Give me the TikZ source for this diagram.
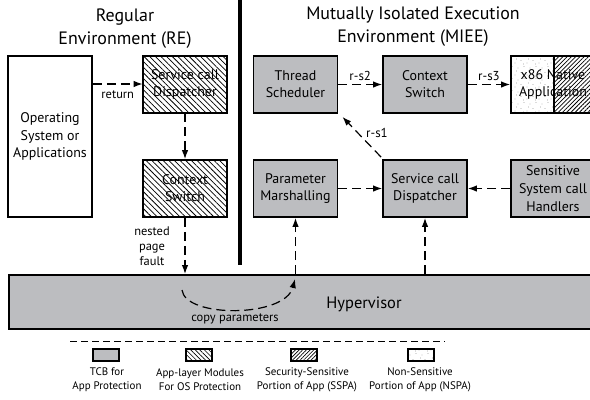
\documentclass[tikz,border=0pt]{standalone}
\usepackage{fontspec}
\setmainfont{PT Sans}
\usetikzlibrary{patterns,patterns.meta,arrows.meta}
\definecolor{tcb}{RGB}{188,189,192}
\pgfdeclarepattern{
  name=sparsedots, type=uncolored,
  bottom left={\pgfpoint{0pt}{0pt}}, top right={\pgfpoint{12pt}{12pt}},
  tile size={\pgfpoint{12pt}{12pt}},
  code={
    \pgfpathcircle{\pgfpoint{1pt}{2pt}}{0.4pt}
    \pgfpathcircle{\pgfpoint{7pt}{4.5pt}}{0.4pt}
    \pgfpathcircle{\pgfpoint{4pt}{9pt}}{0.4pt}
    \pgfpathcircle{\pgfpoint{10pt}{10.5pt}}{0.4pt}
    \pgfpathcircle{\pgfpoint{9.5pt}{1pt}}{0.4pt}
    \pgfpathcircle{\pgfpoint{2.5pt}{6pt}}{0.4pt}
    \pgfusepath{fill}
  }
}
\begin{document}
\begin{tikzpicture}[x=1bp,y=-1bp,
  box/.style={draw, line width=1.8bp, minimum width=84bp, minimum height=57bp,
    inner sep=1bp, align=center, font=\fontsize{14}{17}\selectfont},
  tcbbox/.style={box, fill=tcb},
  appbox/.style={box, pattern={Lines[angle=-45,distance=4bp,line width=0.75bp]}},
  dflow/.style={line width=1.2bp, dash pattern=on 9bp off 5bp,
    -{Latex[length=9bp,width=6.5bp]}},
  lbl/.style={font=\fontsize{12.5}{15}\selectfont, align=center, inner sep=0pt},
  rs/.style={lbl, font=\fontsize{13}{15}\selectfont},
  title/.style={font=\fontsize{18}{23}\selectfont, align=center, inner sep=0pt},
  legbox/.style={draw, line width=1.4bp, minimum width=26bp, minimum height=12bp, inner sep=0pt},
  legtext/.style={font=\fontsize{11}{14}\selectfont, align=center, inner sep=0pt},
]
\useasboundingbox (0,0) rectangle (590,399);
\clip (0,0) rectangle (590,399);

% titles
\node[title] (tre) at (125,29) {Regular\\Environment (RE)};
\node[title] (tmiee) at (413,27) {Mutually Isolated Execution\\Environment (MIEE)};

% divider
\draw[line width=4bp] (240,0) -- (240,265);

% hypervisor
\node[draw, fill=tcb, line width=1.8bp, minimum width=600bp, minimum height=54bp,
  anchor=north west, inner sep=0pt] (hyp) at (8,274) {};
\node[font=\fontsize{16.5}{20}\selectfont, inner sep=0pt] (hyptext) at (364,304) {Hypervisor};

% RE
\node[box, minimum height=161bp, font=\fontsize{14}{17.5}\selectfont] (os) at (50,136.5) {Operating\\System or\\Applications};
\node[appbox] (redisp) at (185,84.5) {Service call\\Dispatcher};
\node[appbox] (rectx) at (185,188.5) {Context\\Switch};

% MIEE
\node[tcbbox] (ts) at (295.5,84.5) {Thread\\Scheduler};
\node[tcbbox] (mctx) at (425,84.5) {Context\\Switch};
\node[box, path picture={
    \fill[pattern=sparsedots, pattern color=black!60]
      (path picture bounding box.south west) rectangle ([xshift=-41bp]path picture bounding box.north east);
    \fill[pattern={Lines[angle=45,distance=3bp,line width=0.75bp]}]
      ([xshift=-41bp]path picture bounding box.south east) rectangle (path picture bounding box.north east);
    \draw[line width=1.8bp] ([xshift=-41bp]path picture bounding box.south east) -- ([xshift=-41bp]path picture bounding box.north east);
  }] (x86) at (553,84.5) {x86 Native\\Application};
\node[tcbbox] (pm) at (295.5,188.5) {Parameter\\Marshalling};
\node[tcbbox] (mdisp) at (425,188.5) {Service call\\Dispatcher};
\node[tcbbox, font=\fontsize{14}{18}\selectfont] (sens) at (553,188.5) {Sensitive\\System call\\Handlers};

% connectors RE
\draw[dflow] (os.east |- 0,84) -- node[lbl, below=6bp] {return} (redisp.west |- 0,84);
\draw[dflow] (redisp.south) -- (rectx.south |- rectx.north);
\draw[dflow] (rectx.south) -- (rectx.south |- hyp.north);
\node[lbl] (npf) at (152,246) {nested\\page\\fault};

% copy parameters
\coordinate (cps) at (182,290);
\coordinate (cpe) at (295,279);
\draw[dflow] (cps) .. controls (185,318) and (285,318) .. (cpe);
\node[lbl] (cpl) at (235,319) {copy parameters};
\draw[dflow] (pm.south |- hyp.north) -- (pm.south);
\draw[dflow] (mdisp.south |- hyp.north) -- (mdisp.south);

% connectors MIEE
\draw[dflow] (ts.east) -- node[rs, above=3bp] {r-s2} (mctx.west);
\draw[dflow] (mctx.east) -- node[rs, above=3bp] {r-s3} (x86.west);
\draw[dflow] ([xshift=-1bp,yshift=2bp]mdisp.north west) -- ([xshift=4bp,yshift=-3bp]ts.south east);
\node[rs] (rs1) at (377,133) {r-s1};
\draw[dflow] (pm.east) -- (mdisp.west);
\draw[dflow] (sens.west) -- (mdisp.east);

% legend
\coordinate (lgl) at (70,341);
\coordinate (lgr) at (445,341);
\draw[line width=0.9bp, dash pattern=on 7bp off 4bp] (lgl) -- (lgr);
\node[legbox, fill=tcb] (l1) at (106,355) {};
\node[legbox, pattern={Lines[angle=-45,distance=3.2bp,line width=0.6bp]}] (l2) at (199,355) {};
\node[legbox, pattern={Lines[angle=45,distance=2.6bp,line width=0.7bp]}] (l3) at (304,355) {};
\node[legbox, pattern=sparsedots, pattern color=black!60] (l4) at (421,355) {};
\node[legtext] (lt1) at (107,380) {TCB for\\App Protection};
\node[legtext] (lt2) at (200,380) {App-layer Modules\\For OS Protection};
\node[legtext] (lt3) at (307,380) {Security-Sensitive\\Portion of App (SSPA)};
\node[legtext] (lt4) at (420,380) {Non-Sensitive\\Portion of App (NSPA)};
\end{tikzpicture}
\end{document}
